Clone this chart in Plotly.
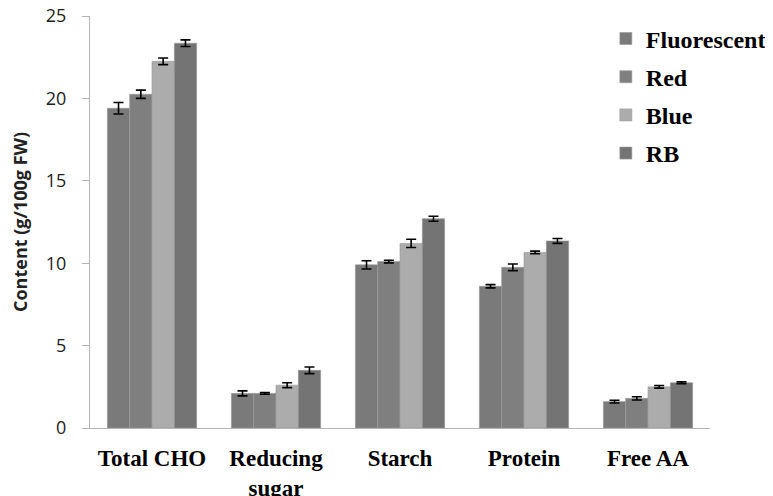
import plotly.graph_objects as go

categories = ["Total CHO", "Reducing<br>sugar", "Starch", "Protein", "Free AA"]
series_names = ["Fluorescent", "Red", "Blue", "RB"]
fluorescent = [19.4, 2.1, 9.9, 8.6, 1.6]
fluorescent_err = [0.35, 0.15, 0.25, 0.1, 0.08]
red = [20.25, 2.1, 10.1, 9.75, 1.8]
red_err = [0.25, 0.05, 0.08, 0.2, 0.1]
blue = [22.25, 2.6, 11.2, 10.65, 2.5]
blue_err = [0.2, 0.15, 0.25, 0.08, 0.08]
rb = [23.35, 3.5, 12.7, 11.35, 2.75]
rb_err = [0.2, 0.2, 0.15, 0.15, 0.06]

values = [fluorescent, red, blue, rb]
errors = [fluorescent_err, red_err, blue_err, rb_err]
colors = ["#7a7a7a", "#7f7f7f", "#acacac", "#747474"]

fig = go.Figure()
for name, v, e, c in zip(series_names, values, errors, colors):
    fig.add_trace(go.Bar(
        x=categories, y=v, name="<b>" + name + "</b>", legendgroup=name,
        marker=dict(color=c, line=dict(color="#999999", width=0.6)),
        error_y=dict(type="data", array=e, visible=True, color="black",
                     thickness=1.6, width=5),
    ))

fig.update_layout(
    width=765, height=488,
    margin=dict(l=82, r=63, t=8, b=68, autoexpand=False),
    paper_bgcolor="white", plot_bgcolor="white",
    barmode="group", bargap=0.28, bargroupgap=0,
    showlegend=True,
    legend=dict(x=0.832, y=0.999, xanchor="left", yanchor="top",
                xref="paper", yref="paper",
                font=dict(family="Liberation Serif", size=24, color="black"),
                tracegroupgap=4, itemwidth=30,
                bgcolor="rgba(0,0,0,0)"),
    font=dict(family="Liberation Sans", color="#222222"),
)
fig.update_yaxes(
    range=[0, 25], tickvals=[0, 5, 10, 15, 20, 25], showgrid=False,
    showline=True, linecolor="#b5b5b5", linewidth=1,
    ticks="outside", ticklen=7, tickcolor="#b5b5b5",
    ticklabelstandoff=12, ticklabeloverflow="allow",
    tickfont=dict(family="Open Sans", size=18, color="#222222"),
    title=dict(text="<b>Content (g/100g FW)</b>", font=dict(family="Open Sans", size=18, color="#222222"), standoff=18),
    zeroline=False, automargin=False,
)
fig.update_xaxes(
    showline=True, linecolor="#b5b5b5", linewidth=1, showgrid=False,
    tickfont=dict(family="Liberation Serif", size=23, color="black"),
    ticks="", ticklabelstandoff=9, automargin=False, ticklabeloverflow="allow",
    tickprefix="<b>", ticksuffix="</b>",
)
fig.write_html("out.html")
